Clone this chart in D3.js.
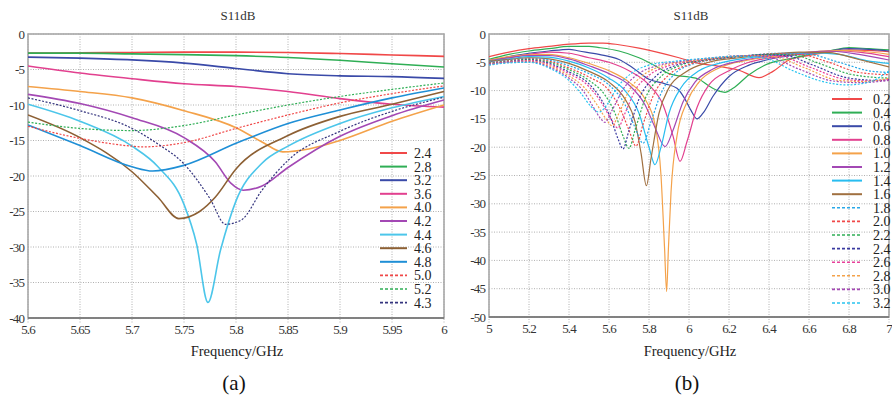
<!DOCTYPE html>
<html>
<head>
<meta charset="utf-8">
<script src="https://cdn.jsdelivr.net/npm/d3@7"></script>
<style>
  body { margin: 0; background: #fff; }
  text { font-family: "Times New Roman", "Liberation Serif", Tinos, "DejaVu Serif", "Noto Serif", serif; }
  .grid line { stroke: #b0b0b0; stroke-width: 1; stroke-dasharray: 1, 1.5; }
  .tick-label { font-size: 13px; letter-spacing: -0.9px; fill: #333; }
</style>
</head>
<body>
<svg id="chart" width="892" height="400"></svg>
<script>

// ---------- panel (a) data ----------
const leftLabels = ["2.4", "2.8", "3.2", "3.6", "4.0", "4.2", "4.4", "4.6", "4.8", "5.0", "5.2", "4.3"]
const leftXTicks = [5.6, 5.65, 5.7, 5.75, 5.8, 5.85, 5.9, 5.95, 6]
const leftYTicks = [0, -5, -10, -15, -20, -25, -30, -35, -40]

const a24 = [[5.6,-2.7],[5.65,-2.65],[5.7,-2.6],[5.75,-2.55],[5.8,-2.55],[5.85,-2.6],[5.9,-2.75],[5.95,-2.95],[6.0,-3.15]]
const a28 = [[5.6,-2.7],[5.65,-2.7],[5.7,-2.8],[5.75,-2.9],[5.8,-3.05],[5.85,-3.3],[5.9,-3.7],[5.95,-4.2],[6.0,-4.65]]
const a32 = [[5.6,-3.25],[5.65,-3.4],[5.7,-3.65],[5.75,-4.1],[5.8,-4.85],[5.85,-5.6],[5.9,-5.9],[5.95,-6.0],[6.0,-6.25]]
const a36 = [[5.6,-4.5],[5.65,-5.5],[5.7,-6.3],[5.75,-7.0],[5.8,-7.4],[5.85,-8.1],[5.9,-9.1],[5.95,-9.9],[6.0,-10.3]]
const a40 = [[5.6,-7.4],[5.65,-8.1],[5.7,-9.0],[5.75,-10.8],[5.8,-13.2],[5.825,-15.2],[5.845,-16.6],[5.87,-16.2],[5.9,-15.0],[5.95,-12.3],[6.0,-10.0]]
const a42 = [[5.6,-8.5],[5.65,-9.8],[5.7,-11.8],[5.75,-14.6],[5.78,-18.0],[5.795,-21.0],[5.807,-22.0],[5.825,-21.4],[5.85,-18.8],[5.9,-14.4],[5.95,-11.5],[6.0,-9.3]]
const a44 = [[5.6,-9.9],[5.65,-12.3],[5.7,-15.8],[5.725,-18.7],[5.75,-24.0],[5.762,-29.5],[5.773,-37.8],[5.785,-30.5],[5.8,-23.5],[5.825,-18.2],[5.85,-15.8],[5.9,-12.6],[5.95,-10.4],[6.0,-8.8]]
const a46 = [[5.6,-11.4],[5.65,-14.6],[5.7,-19.4],[5.725,-23.0],[5.745,-26.0],[5.765,-25.0],[5.78,-23.0],[5.8,-19.0],[5.85,-14.3],[5.9,-11.6],[5.95,-9.9],[6.0,-8.1]]
const a48 = [[5.6,-12.8],[5.65,-15.7],[5.7,-18.7],[5.72,-19.3],[5.75,-18.5],[5.8,-15.4],[5.85,-12.6],[5.9,-10.7],[5.95,-9.0],[6.0,-7.6]]
const a50 = [[5.6,-13.0],[5.65,-14.7],[5.7,-15.8],[5.71,-15.9],[5.75,-15.3],[5.8,-13.3],[5.85,-11.4],[5.9,-9.7],[5.95,-8.4],[6.0,-7.3]]
const a52 = [[5.6,-12.4],[5.65,-13.3],[5.7,-13.6],[5.75,-12.9],[5.8,-11.4],[5.85,-10.0],[5.9,-8.8],[5.95,-7.8],[6.0,-6.9]]
const a43 = [[5.6,-9.0],[5.65,-10.8],[5.7,-13.3],[5.725,-15.5],[5.75,-18.3],[5.775,-23.2],[5.79,-26.8],[5.805,-26.2],[5.825,-22.0],[5.85,-17.8],[5.9,-13.7],[5.95,-10.9],[6.0,-8.9]]
const leftSeries = [a24, a28, a32, a36, a40, a42, a44, a46, a48, a50, a52, a43]

// ---------- panel (b) data ----------
const rightLabels = ["0.2", "0.4", "0.6", "0.8", "1.0", "1.2", "1.4", "1.6", "1.8", "2.0", "2.2", "2.4", "2.6", "2.8", "3.0", "3.2"]
const rightXTicks = [5, 5.2, 5.4, 5.6, 5.8, 6, 6.2, 6.4, 6.6, 6.8, 7]
const rightYTicks = [0, -5, -10, -15, -20, -25, -30, -35, -40, -45, -50]

const b02 = [[5.0,-4.0],[5.1,-3.2],[5.2,-2.6],[5.3,-2.2],[5.4,-1.8],[5.5,-1.6],[5.57,-1.6],[5.65,-1.9],[5.75,-2.5],[5.85,-3.3],[5.95,-4.2],[6.05,-5.2],[6.15,-5.7],[6.25,-6.4],[6.35,-7.7],[6.42,-6.6],[6.5,-4.6],[6.6,-3.8],[6.7,-3.2],[6.8,-2.8],[6.9,-2.9],[7.0,-3.1]]
const b04 = [[5.0,-4.5],[5.1,-3.6],[5.2,-3.0],[5.3,-2.6],[5.4,-2.2],[5.5,-2.2],[5.55,-2.4],[5.65,-3.0],[5.75,-4.2],[5.85,-6.0],[5.9,-7.0],[5.95,-7.4],[6.0,-7.6],[6.05,-8.0],[6.1,-9.2],[6.15,-10.1],[6.18,-10.3],[6.22,-9.6],[6.3,-7.2],[6.4,-5.2],[6.5,-4.4],[6.6,-3.6],[6.7,-3.0],[6.8,-2.4],[6.9,-2.6],[7.0,-2.8]]
const b06 = [[5.0,-5.0],[5.1,-4.0],[5.2,-3.4],[5.3,-3.0],[5.4,-2.7],[5.45,-3.0],[5.55,-3.6],[5.65,-4.5],[5.72,-6.0],[5.8,-8.0],[5.88,-8.8],[5.94,-9.6],[5.98,-11.5],[6.01,-13.5],[6.04,-15.0],[6.07,-14.0],[6.12,-11.0],[6.2,-7.5],[6.3,-5.5],[6.4,-4.5],[6.55,-3.6],[6.7,-3.0],[6.8,-2.6],[6.9,-2.7],[7.0,-3.0]]
const b08 = [[5.0,-4.8],[5.1,-4.2],[5.2,-3.6],[5.3,-3.2],[5.4,-3.4],[5.5,-4.2],[5.6,-5.0],[5.7,-6.5],[5.8,-9.0],[5.87,-12.5],[5.92,-18.0],[5.955,-22.5],[5.99,-19.0],[6.04,-13.0],[6.1,-9.0],[6.2,-6.5],[6.3,-5.0],[6.45,-4.0],[6.6,-3.4],[6.75,-3.0],[6.85,-3.2],[7.0,-4.0]]
const b10 = [[5.0,-4.6],[5.1,-4.0],[5.2,-3.7],[5.3,-3.6],[5.4,-4.2],[5.5,-5.2],[5.6,-6.5],[5.7,-8.5],[5.78,-11.5],[5.83,-16.0],[5.86,-25.0],[5.878,-38.0],[5.888,-45.5],[5.897,-38.0],[5.91,-28.0],[5.94,-18.0],[5.99,-12.0],[6.05,-8.5],[6.15,-6.0],[6.3,-4.6],[6.45,-3.8],[6.6,-3.2],[6.75,-2.9],[6.85,-3.0],[7.0,-3.6]]
const b12 = [[5.0,-4.7],[5.1,-4.2],[5.2,-3.8],[5.3,-3.8],[5.4,-4.4],[5.5,-5.6],[5.6,-7.0],[5.7,-9.0],[5.78,-12.5],[5.83,-16.5],[5.88,-19.9],[5.92,-17.0],[5.97,-12.0],[6.03,-8.5],[6.12,-6.2],[6.25,-4.8],[6.4,-3.9],[6.55,-3.4],[6.7,-3.0],[6.85,-3.6],[7.0,-4.6]]
const b14 = [[5.0,-4.8],[5.1,-4.4],[5.2,-4.0],[5.3,-4.1],[5.4,-4.8],[5.5,-6.0],[5.6,-7.8],[5.68,-10.0],[5.75,-14.0],[5.8,-20.0],[5.83,-23.1],[5.86,-20.0],[5.9,-14.0],[5.96,-9.5],[6.05,-6.5],[6.15,-5.2],[6.3,-4.2],[6.45,-3.6],[6.6,-3.3],[6.75,-3.6],[6.9,-4.8],[7.0,-5.2]]
const b16 = [[5.0,-4.8],[5.1,-4.5],[5.2,-4.2],[5.3,-4.4],[5.4,-5.2],[5.5,-6.6],[5.6,-8.5],[5.68,-11.5],[5.73,-15.5],[5.76,-21.0],[5.787,-26.8],[5.81,-22.0],[5.85,-14.0],[5.9,-9.5],[5.98,-6.8],[6.1,-5.0],[6.25,-4.2],[6.4,-3.6],[6.55,-3.2],[6.7,-3.3],[6.85,-4.5],[7.0,-5.8]]
const b18 = [[5.0,-5.0],[5.1,-4.6],[5.2,-4.3],[5.3,-4.6],[5.4,-5.6],[5.5,-7.0],[5.6,-9.0],[5.68,-12.5],[5.73,-16.5],[5.77,-19.3],[5.81,-15.5],[5.86,-10.5],[5.93,-7.0],[6.02,-5.3],[6.15,-4.4],[6.3,-3.8],[6.45,-3.4],[6.6,-3.6],[6.75,-5.0],[6.9,-6.5],[7.0,-6.8]]
const b20 = [[5.0,-5.1],[5.1,-4.7],[5.2,-4.4],[5.3,-4.8],[5.4,-6.0],[5.5,-7.6],[5.6,-10.0],[5.66,-13.5],[5.7,-17.0],[5.735,-19.8],[5.77,-16.0],[5.82,-11.0],[5.9,-7.2],[6.0,-5.4],[6.12,-4.5],[6.28,-3.9],[6.42,-3.5],[6.55,-3.6],[6.7,-5.0],[6.85,-6.8],[7.0,-7.2]]
const b22 = [[5.0,-5.2],[5.1,-4.8],[5.2,-4.5],[5.3,-5.0],[5.4,-6.3],[5.5,-8.2],[5.58,-10.8],[5.63,-14.0],[5.67,-18.0],[5.70,-20.2],[5.73,-17.0],[5.78,-11.5],[5.86,-7.5],[5.96,-5.5],[6.08,-4.6],[6.24,-4.0],[6.4,-3.6],[6.52,-3.7],[6.65,-5.2],[6.82,-7.2],[7.0,-7.8]]
const b24 = [[5.0,-5.3],[5.1,-4.9],[5.2,-4.6],[5.3,-5.2],[5.4,-6.7],[5.5,-8.8],[5.56,-11.5],[5.61,-15.0],[5.645,-18.5],[5.67,-20.3],[5.70,-17.0],[5.75,-11.5],[5.83,-7.6],[5.93,-5.6],[6.05,-4.7],[6.2,-4.1],[6.36,-3.7],[6.48,-3.8],[6.62,-5.5],[6.8,-7.8],[6.95,-8.2],[7.0,-8.0]]
const b26 = [[5.0,-5.3],[5.1,-4.9],[5.2,-4.7],[5.3,-5.4],[5.4,-7.0],[5.5,-9.3],[5.56,-12.0],[5.61,-15.0],[5.644,-16.6],[5.68,-14.0],[5.73,-10.0],[5.8,-7.3],[5.9,-5.6],[6.02,-4.8],[6.16,-4.2],[6.32,-3.8],[6.45,-3.9],[6.6,-5.8],[6.78,-8.0],[6.9,-8.3],[7.0,-8.0]]
const b28 = [[5.0,-5.4],[5.1,-5.0],[5.2,-4.8],[5.3,-5.6],[5.4,-7.4],[5.48,-9.6],[5.54,-12.5],[5.585,-15.0],[5.615,-16.2],[5.65,-14.0],[5.7,-10.0],[5.77,-7.3],[5.87,-5.6],[6.0,-4.8],[6.14,-4.2],[6.3,-3.8],[6.42,-4.0],[6.58,-6.0],[6.75,-8.2],[6.88,-8.4],[7.0,-7.8]]
const b30 = [[5.0,-5.4],[5.1,-5.0],[5.2,-4.9],[5.3,-5.8],[5.4,-7.8],[5.47,-10.0],[5.52,-12.8],[5.555,-14.8],[5.58,-15.6],[5.615,-13.5],[5.67,-9.8],[5.74,-7.2],[5.84,-5.6],[5.97,-4.8],[6.12,-4.2],[6.28,-3.8],[6.4,-4.1],[6.55,-6.2],[6.72,-8.3],[6.85,-8.6],[7.0,-8.2]]
const b32 = [[5.0,-5.5],[5.1,-5.1],[5.2,-5.0],[5.3,-6.0],[5.4,-8.2],[5.46,-10.5],[5.51,-12.8],[5.55,-13.8],[5.59,-12.5],[5.64,-9.5],[5.71,-7.0],[5.8,-5.5],[5.93,-4.8],[6.08,-4.3],[6.25,-3.9],[6.38,-4.3],[6.52,-6.5],[6.68,-8.5],[6.79,-9.0],[6.9,-8.5],[7.0,-6.5]]
const rightSeries = [b02, b04, b06, b08, b10, b12, b14, b16, b18, b20, b22, b24, b26, b28, b30, b32]

// colours (styles kept apart from the values)
const leftColors = ["#f04848", "#2fae55", "#3a4aa8", "#e2408f", "#f4a24a", "#a348b4", "#4cc6ea", "#8d6034", "#1f8fd6", "#f04848", "#2fae55", "#34347e"]
const rightColors = ["#f04848", "#2fae55", "#3a4aa8", "#e2408f", "#f4a24a", "#a348b4", "#28bdf0", "#a07040",
                     "#28a8e8", "#f04848", "#2fae55", "#3a3aa0", "#e8409a", "#f4a24a", "#a348b4", "#28c4f0"]

const svg = d3.select("#chart")

function drawPanel(o) {

  const x = d3.scaleLinear().domain(o.xDomain).range([o.left, o.right])
  const y = d3.scaleLinear().domain(o.yDomain).range([o.bottom, o.top])

  const g = svg.append("g")

  g.append("clipPath").attr("id", o.id + "clip")
    .append("rect")
      .attr("x", o.left).attr("y", o.top)
      .attr("width", o.right - o.left).attr("height", o.bottom - o.top)

  // grid
  const grid = g.append("g").attr("class", "grid")
  grid.selectAll(".vx")
    .data(o.xTicks)
    .join("line")
      .attr("x1", d => x(d)).attr("x2", d => x(d))
      .attr("y1", o.top).attr("y2", o.bottom + 6)
  grid.selectAll(".hy")
    .data(o.yTicks)
    .join("line")
      .attr("x1", o.left).attr("x2", o.right)
      .attr("y1", d => y(d)).attr("y2", d => y(d))

  // frame
  g.append("rect")
    .attr("x", o.left).attr("y", o.top)
    .attr("width", o.right - o.left).attr("height", o.bottom - o.top)
    .attr("fill", "none").attr("stroke", "#a8a8a8").attr("stroke-width", 1.6)
  g.append("line")
    .attr("x1", o.left).attr("x2", o.right)
    .attr("y1", o.bottom).attr("y2", o.bottom)
    .attr("stroke", "#707070").attr("stroke-width", 1.4)

  // tick labels
  g.selectAll(".xl")
    .data(o.xTicks)
    .join("text")
      .attr("class", "tick-label")
      .attr("x", d => x(d))
      .attr("y", o.bottom + 16)
      .attr("text-anchor", "middle")
      .text(d => String(d))
  g.selectAll(".yl")
    .data(o.yTicks)
    .join("text")
      .attr("class", "tick-label")
      .attr("x", o.left - 4)
      .attr("y", d => y(d))
      .attr("dy", "0.35em")
      .attr("text-anchor", "end")
      .text(d => String(d))

  // curves
  const line = d3.line()
    .x(d => x(d[0]))
    .y(d => y(d[1]))
    .curve(d3.curveMonotoneX)

  g.append("g")
    .attr("clip-path", `url(#${o.id}clip)`)
    .selectAll("path")
    .data(o.series)
    .join("path")
      .attr("d", line)
      .attr("fill", "none")
      .attr("stroke", (d, i) => o.colors[i])
      .attr("stroke-width", (d, i) => i >= o.dashFrom ? 1.2 : o.lineWidth)
      .attr("stroke-dasharray", (d, i) => i >= o.dashFrom ? "2,1.6" : null)

  // legend
  const leg = g.append("g")
  const rows = leg.selectAll("g")
    .data(o.labels)
    .join("g")
      .attr("transform", (d, i) => `translate(${o.legendX},${o.legendY + i * 13.6})`)
  rows.append("line")
    .attr("x1", 0).attr("x2", o.legendLine)
    .attr("stroke", (d, i) => o.colors[i])
    .attr("stroke-width", (d, i) => i >= o.dashFrom ? 1.6 : 2)
    .attr("stroke-dasharray", (d, i) => i >= o.dashFrom ? "3,2" : null)
  rows.append("text")
    .attr("x", o.legendText)
    .attr("dy", "0.35em")
    .attr("font-size", 14)
    .attr("fill", "#222")
    .text(d => d)

  // titles
  const mid = (o.left + o.right) / 2
  g.append("text")
    .attr("x", mid + 2).attr("y", 20)
    .attr("text-anchor", "middle")
    .attr("font-size", 13).attr("fill", "#333")
    .text("S11dB")
  g.append("text")
    .attr("x", mid + 1).attr("y", 356)
    .attr("text-anchor", "middle")
    .attr("font-size", 14.5).attr("fill", "#222")
    .text("Frequency/GHz")
  g.append("text")
    .attr("x", mid - 2).attr("y", 390)
    .attr("text-anchor", "middle")
    .attr("font-size", 21).attr("fill", "#111")
    .text(o.caption)
}

drawPanel({
  id: "a", left: 28, right: 444, top: 34, bottom: 318,
  xDomain: [5.6, 6], yDomain: [-40, 0],
  xTicks: leftXTicks, yTicks: leftYTicks,
  series: leftSeries, labels: leftLabels, colors: leftColors,
  dashFrom: 9, lineWidth: 1.6,
  legendX: 380, legendY: 153, legendLine: 27, legendText: 34,
  caption: "(a)"
})

drawPanel({
  id: "b", left: 489, right: 889, top: 34, bottom: 317,
  xDomain: [5, 7], yDomain: [-50, 0],
  xTicks: rightXTicks, yTicks: rightYTicks,
  series: rightSeries, labels: rightLabels, colors: rightColors,
  dashFrom: 8, lineWidth: 1.2,
  legendX: 832, legendY: 99, legendLine: 30, legendText: 41,
  caption: "(b)"
})

</script>
</body>
</html>
